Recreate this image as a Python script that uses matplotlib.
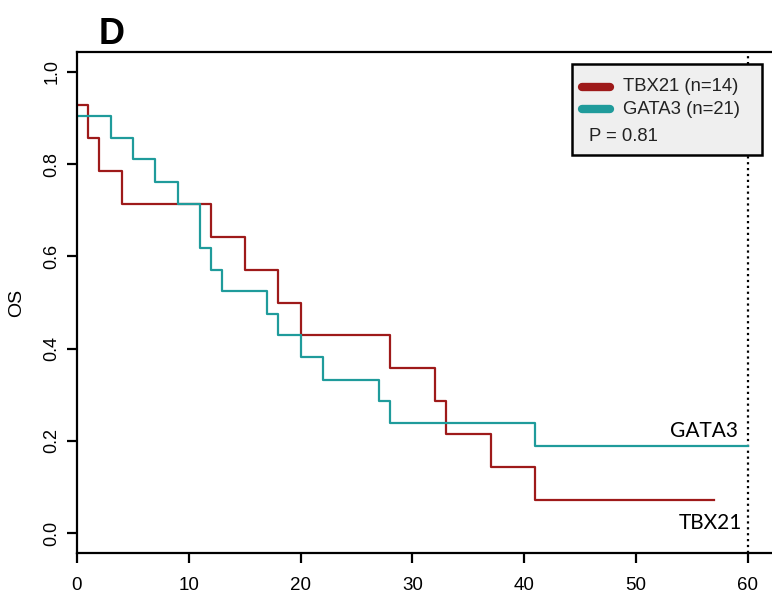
import matplotlib
matplotlib.use("Agg")
import matplotlib.pyplot as plt
from matplotlib.patches import Rectangle

# Kaplan-Meier estimates (months, OS)
tbx21_time = [0, 1, 2, 4, 12, 15, 18, 20, 28, 32, 33, 37, 41, 57]
tbx21_surv = [0.929, 0.857, 0.786, 0.714, 0.643, 0.571, 0.500, 0.429,
              0.357, 0.286, 0.214, 0.143, 0.071, 0.071]

gata3_time = [0, 3, 5, 7, 9, 11, 12, 13, 17, 18, 20, 22, 27, 28, 41, 60]
gata3_surv = [0.905, 0.857, 0.810, 0.762, 0.714, 0.619, 0.571, 0.524,
              0.476, 0.429, 0.381, 0.333, 0.286, 0.238, 0.190, 0.190]

x_ticks = [0, 10, 20, 30, 40, 50, 60]
y_ticks = [0.0, 0.2, 0.4, 0.6, 0.8, 1.0]
legend_labels = ['TBX21 (n=14)', 'GATA3 (n=21)']
p_text = 'P = 0.81'
cutoff = 60

RED = '#9e1a1a'
TEAL = '#1f9b9b'

plt.rcParams['font.family'] = ['Liberation Sans', 'DejaVu Sans']

fig = plt.figure(figsize=(7.72, 5.96), dpi=100)
ax = fig.add_axes([77/772, 43/596, 695/772, 501/596])

ax.step(tbx21_time, tbx21_surv, where='post', color=RED, lw=1.6)
ax.step(gata3_time, gata3_surv, where='post', color=TEAL, lw=1.6)

# follow-up cutoff
ax.axvline(cutoff, color='black', ls=':', lw=1.6, zorder=1)

# curve labels
ax.text(59.1, 0.222, 'GATA3', family='Lato', fontsize=15, ha='right', va='center')
ax.text(59.45, 0.022, 'TBX21', family='Lato', fontsize=15, ha='right', va='center')

ax.set_xlim(0, 62.16)
ax.set_ylim(-0.043, 1.043)
ax.set_xticks(x_ticks)
ax.set_yticks(y_ticks)
ax.set_yticklabels([f'{v:.1f}' for v in y_ticks], rotation=90, va='center')
ax.tick_params(axis='both', length=7, width=1.6)
ax.tick_params(axis='x', pad=10, labelsize=13.5)
ax.tick_params(axis='y', pad=5, labelsize=13)
for s in ['left', 'bottom', 'top']:
    ax.spines[s].set_linewidth(1.6)
ax.spines['right'].set_visible(False)

# legend box drawn by hand (axes fraction coords)
ax.add_patch(Rectangle((0.712, 0.794), 0.273, 0.183, transform=ax.transAxes,
                       facecolor='#efefef', edgecolor='black', lw=1.8, zorder=5))
for y, c, lab in zip([0.931, 0.886], [RED, TEAL], legend_labels):
    ax.plot([0.726, 0.767], [y, y], transform=ax.transAxes, color=c, lw=6,
            solid_capstyle='round', zorder=6)
    ax.text(0.785, y, lab, transform=ax.transAxes, fontsize=13.3, va='center',
            color='#222222', zorder=6)
ax.text(0.737, 0.831, p_text, transform=ax.transAxes, fontsize=13.3, va='center',
        color='#222222', zorder=6)

fig.text(17/772, 1 - 303/596, 'OS', rotation=90, ha='center', va='center', fontsize=14)
fig.text(99/772, 1 - 44/596, 'D', fontweight='bold', fontsize=26, ha='left', va='baseline')

fig.savefig('out.png', dpi=100)
